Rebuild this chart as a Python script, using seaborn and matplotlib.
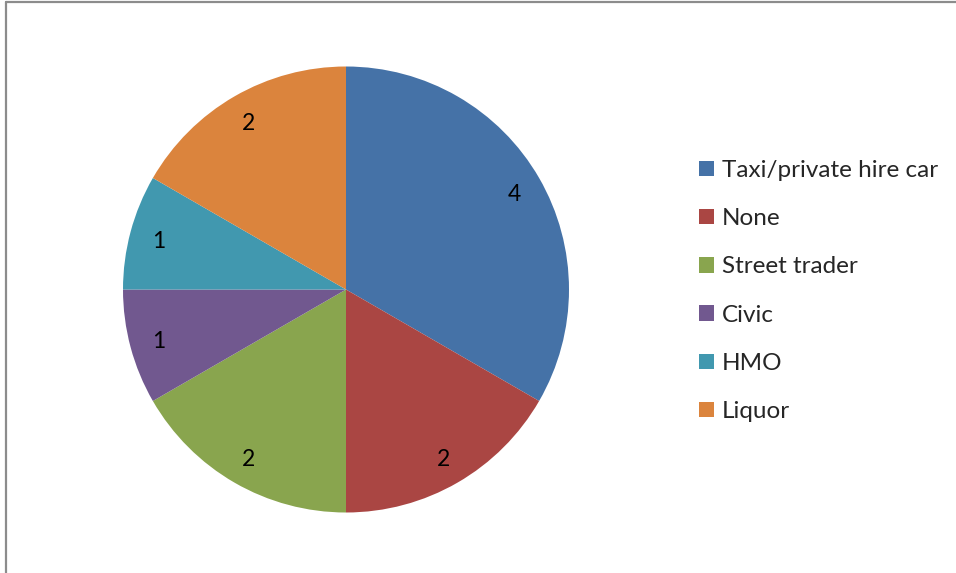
import matplotlib
matplotlib.use("Agg")
import matplotlib.pyplot as plt
from matplotlib.lines import Line2D
import seaborn as sns

categories = ["Taxi/private hire car", "None", "Street trader", "Civic", "HMO", "Liquor"]
counts = [4, 2, 2, 1, 1, 2]
colors = ["#4572A7", "#AA4643", "#89A54E", "#71588F", "#4198AF", "#DB843D"]

sns.set_theme(style="white")
plt.rcParams["font.family"] = ["Lato", "DejaVu Sans"]

W, H = 956, 573
fig = plt.figure(figsize=(W / 100, H / 100), dpi=100)
fig.patch.set_facecolor("white")

# pie area: centre (346, 289.5), radius ~223 px
cx, cy, r = 346, 289.5, 223
ax = fig.add_axes([(cx - r) / W, 1 - (cy + r) / H, 2 * r / W, 2 * r / H])
wedges, texts, autotexts = ax.pie(
    counts,
    colors=colors,
    startangle=90,
    counterclock=False,
    autopct=lambda p: f"{p * sum(counts) / 100:.0f}",
    pctdistance=0.87,
    wedgeprops=dict(linewidth=0),
    textprops=dict(fontsize=16.5, color="black"),
)
for t in autotexts:
    t.set_verticalalignment("center_baseline")
ax.set_aspect("equal")
ax.set_xlim(-1, 1)
ax.set_ylim(-1, 1)
ax.axis("off")

# legend
leg = fig.legend(
    wedges,
    categories,
    loc="upper left",
    bbox_to_anchor=(699 / W, 1 - 160 / H),
    frameon=False,
    fontsize=17.5,
    handlelength=0.6,
    handleheight=0.6,
    handletextpad=0.35,
    labelspacing=1.12,
    borderaxespad=0,
    borderpad=0,
)

# chart frame lines (top and left)
fig.add_artist(Line2D([5.5 / W, 1], [1 - 1.5 / H, 1 - 1.5 / H], transform=fig.transFigure,
                      color="#8c8c8c", linewidth=1.6))
fig.add_artist(Line2D([5.5 / W, 5.5 / W], [0, 1 - 1.5 / H], transform=fig.transFigure,
                      color="#8c8c8c", linewidth=1.6))

fig.savefig("out.png", dpi=100, facecolor="white")
